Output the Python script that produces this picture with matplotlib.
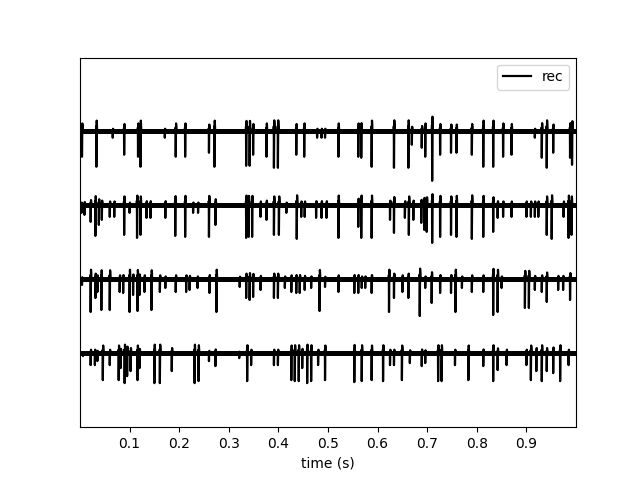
import numpy as np
import matplotlib
matplotlib.use("Agg")
import matplotlib.pyplot as plt

# spike times (s) and spike depths (trace units) for each of the 4 channels
ch1_t = [0.004, 0.033, 0.066, 0.089, 0.117, 0.122, 0.171, 0.193, 0.212, 0.26, 0.271, 0.335, 0.342, 0.349,
         0.376, 0.391, 0.399, 0.436, 0.452, 0.478, 0.487, 0.494, 0.521, 0.561, 0.567, 0.588, 0.633, 0.662,
         0.669, 0.689, 0.696, 0.710, 0.726, 0.748, 0.759, 0.79, 0.813, 0.833, 0.853, 0.870, 0.917, 0.931,
         0.941, 0.954, 0.988, 0.992]
ch1_d = [26, 36, 7, 24, 26, 36, 7, 26, 26, 22, 36, 35, 35, 24,
         26, 37, 37, 24, 26, 7, 7, 7, 26, 26, 27, 36, 37, 37,
         14, 17, 26, 50, 24, 22, 22, 24, 36, 36, 26, 24, 7, 27,
         37, 22, 27, 34]

ch2_t = [0.003, 0.009, 0.0215, 0.031, 0.038, 0.044, 0.060, 0.069, 0.089, 0.100, 0.115, 0.122, 0.134, 0.142,
         0.172, 0.192, 0.212, 0.228, 0.238, 0.260, 0.273, 0.335, 0.340, 0.347, 0.364, 0.376, 0.391, 0.401,
         0.416, 0.437, 0.446, 0.453, 0.476, 0.487, 0.497, 0.521, 0.561, 0.567, 0.588, 0.625, 0.633, 0.655,
         0.663, 0.672, 0.688, 0.694, 0.699, 0.710, 0.726, 0.748, 0.759, 0.790, 0.813, 0.833, 0.842, 0.853,
         0.870, 0.900, 0.909, 0.917, 0.924, 0.941, 0.951, 0.975, 0.985, 0.991]
ch2_d = [8, 10, 17, 31, 20, 15, 12, 12, 30, 8, 33, 30, 13, 13,
         13, 31, 32, 8, 8, 32, 20, 33, 32, 32, 12, 15, 30, 30,
         8, 34, 12, 12, 13, 13, 13, 33, 22, 33, 33, 15, 28, 13,
         30, 15, 18, 25, 27, 38, 32, 30, 32, 34, 32, 27, 13, 12,
         12, 12, 12, 12, 12, 30, 34, 12, 33, 30]

ch3_t = [0.004, 0.0215, 0.031, 0.035, 0.043, 0.060, 0.080, 0.087, 0.100, 0.107, 0.116, 0.120, 0.130, 0.144,
         0.161, 0.172, 0.193, 0.214, 0.221, 0.237, 0.261, 0.275, 0.322, 0.335, 0.342, 0.349, 0.364, 0.391,
         0.399, 0.413, 0.426, 0.436, 0.443, 0.453, 0.466, 0.483, 0.494, 0.521, 0.553, 0.561, 0.568, 0.575,
         0.588, 0.623, 0.633, 0.650, 0.662, 0.685, 0.696, 0.709, 0.726, 0.748, 0.757, 0.770, 0.790, 0.813,
         0.833, 0.842, 0.850, 0.897, 0.905, 0.917, 0.931, 0.941, 0.964, 0.974, 0.988]
ch3_d = [6, 33, 19, 13, 31, 31, 13, 14, 33, 16, 32, 16, 13, 31,
         13, 9, 13, 13, 11, 9, 14, 33, 8, 19, 21, 18, 11, 19,
         19, 9, 13, 14, 14, 11, 9, 32, 8, 13, 14, 14, 9, 9,
         14, 33, 19, 13, 19, 37, 9, 24, 14, 14, 33, 9, 13, 13,
         36, 33, 9, 29, 29, 11, 13, 23, 11, 11, 21]

ch4_t = [0.006, 0.0215, 0.030, 0.035, 0.046, 0.060, 0.078, 0.082, 0.090, 0.095, 0.102, 0.116, 0.120, 0.150,
         0.161, 0.185, 0.231, 0.239, 0.260, 0.273, 0.321, 0.337, 0.345, 0.391, 0.399, 0.426, 0.433, 0.441,
         0.448, 0.458, 0.466, 0.480, 0.494, 0.553, 0.568, 0.588, 0.611, 0.625, 0.633, 0.649, 0.665, 0.689,
         0.696, 0.722, 0.729, 0.756, 0.783, 0.813, 0.833, 0.842, 0.860, 0.900, 0.909, 0.920, 0.931, 0.941,
         0.954, 0.968, 0.985]
ch4_d = [3, 12, 12, 8, 27, 12, 27, 15, 30, 23, 18, 27, 15, 30,
         30, 18, 30, 28, 8, 13, 5, 28, 12, 12, 12, 27, 28, 28,
         15, 30, 28, 12, 27, 29, 28, 27, 28, 12, 12, 27, 10, 13,
         10, 28, 28, 12, 27, 13, 28, 17, 12, 12, 27, 18, 28, 18,
         20, 28, 12]

channels = [(ch1_t, ch1_d), (ch2_t, ch2_d), (ch3_t, ch3_d), (ch4_t, ch4_d)]
offsets = [0, -74, -148, -222]
duration = [0.0, 1.0]


def build_trace(times, depths):
    xs = [duration[0]]
    ys = [0.0]
    for t, d in sorted(zip(times, depths)):
        xs += [t - 0.0008, t - 0.0003, t, t + 0.0007, t + 0.0016]
        ys += [0.0, 0.12 * d, -d, 0.28 * d, 0.0]
    xs.append(duration[1])
    ys.append(0.0)
    return np.array(xs), np.array(ys)


fig, ax = plt.subplots(figsize=(6.4, 4.8), dpi=100)
for i, ((t, d), off) in enumerate(zip(channels, offsets)):
    xs, ys = build_trace(t, d)
    ax.plot(duration, [off, off], color="k", lw=3.6, solid_capstyle="butt")
    ax.plot(xs, ys + off, color="k", lw=1.6, label="rec" if i == 0 else None)

ax.set_xlim(0, 1)
ax.set_ylim(-296, 73)
ax.set_yticks([])
ax.set_xticks([0.1, 0.2, 0.3, 0.4, 0.5, 0.6, 0.7, 0.8, 0.9])
ax.set_xlabel("time (s)")
ax.legend(handles=[ax.lines[1]], labels=["rec"], loc="upper right")
fig.savefig("out.png", dpi=100)
